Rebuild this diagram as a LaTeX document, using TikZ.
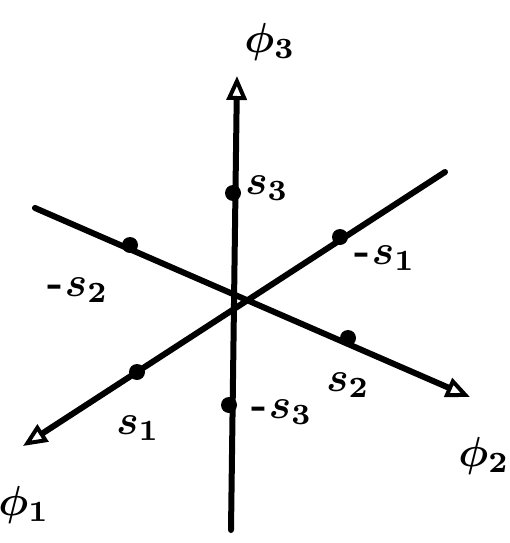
\documentclass[tikz,border=0pt]{standalone}
\usepackage{amsmath}
\usepackage{bm}
\usetikzlibrary{arrows.meta}
\newcommand{\biglab}[1]{\scalebox{4.2}{$\bm{#1}$}}
\newcommand{\negl}[1]{\scalebox{4.2}{\textbf{-}\kern0.3pt$\bm{#1}$}}
\begin{document}
\begin{tikzpicture}[x=1pt,y=-1pt,
  axis/.style={line width=6pt,line cap=round},
  arr/.style={-{Triangle[open,length=24pt,width=20pt,line width=4pt]}},
  pt/.style={circle,fill=black,inner sep=0pt,minimum size=16pt},
  lab/.style={font=\normalsize,inner sep=0pt}]
\useasboundingbox (0,0) rectangle (509,543);
% axis ends
\coordinate (O) at (232,298);
\coordinate (v3top) at (237,76);
\coordinate (v3bot) at (231,530);
\coordinate (v1ur) at (445,172);
\coordinate (v1ll) at (23,446);
\coordinate (v2ul) at (35,208);
\coordinate (v2lr) at (470,397);
% axes
\draw[axis,arr] (v3bot) -- (v3top);
\draw[axis,arr] (v1ur) -- (v1ll);
\draw[axis,arr] (v2ul) -- (v2lr);
% points
\node[pt] (s3) at (233,193) {};
\node[pt] (ms3) at (229,405) {};
\node[pt] (ms1) at (340,237) {};
\node[pt] (s1) at (137,372) {};
\node[pt] (ms2) at (130,245) {};
\node[pt] (s2) at (348,338) {};
% labels
\node[lab] (l3) at (270,42) {\biglab{\phi_3}};
\node[lab] (l2) at (484,456) {\biglab{\phi_2}};
\node[lab] (l1) at (24,505) {\biglab{\phi_1}};
\node[lab] (ls3) at (267,188) {\biglab{s_3}};
\node[lab] (lms3) at (282,412) {\negl{s_3}};
\node[lab] (lms1) at (385,258) {\negl{s_1}};
\node[lab] (ls1) at (138,428) {\biglab{s_1}};
\node[lab] (lms2) at (78,290) {\negl{s_2}};
\node[lab] (ls2) at (348,385) {\biglab{s_2}};
\end{tikzpicture}
\end{document}
